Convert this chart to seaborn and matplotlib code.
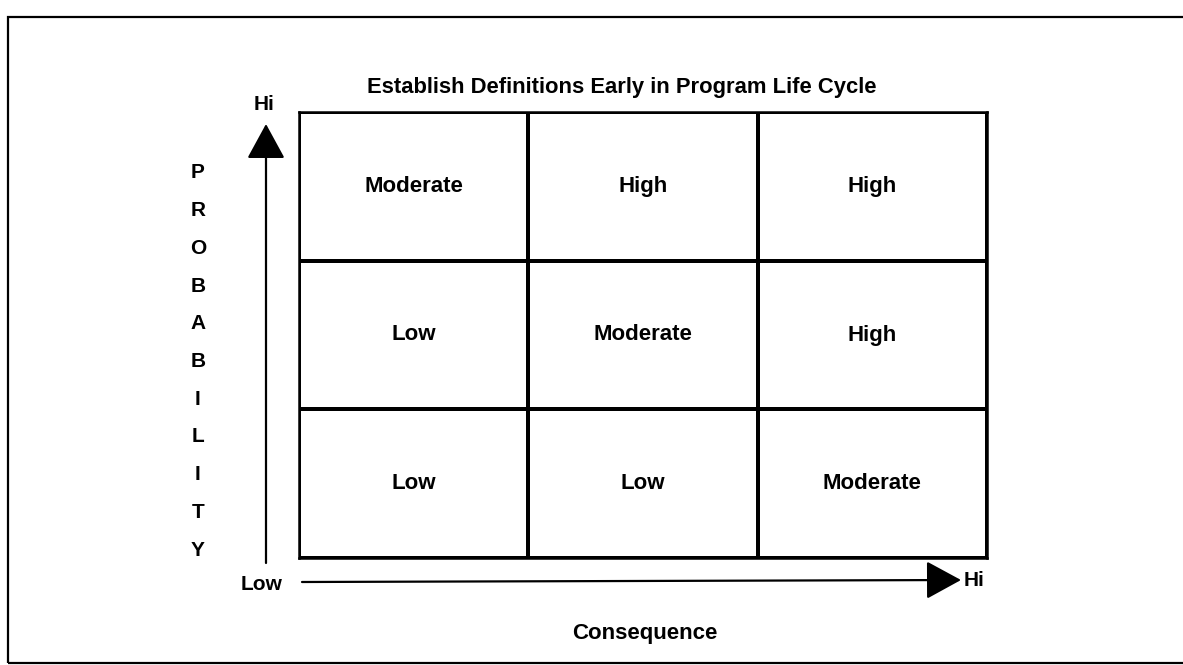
import matplotlib
matplotlib.use("Agg")
import matplotlib.pyplot as plt
import seaborn as sns
import numpy as np
from matplotlib.colors import ListedColormap
from matplotlib.patches import Rectangle, FancyArrowPatch

# Risk matrix data (rows: probability Hi -> Low, cols: consequence Low -> Hi)
prob_rows = ["Hi", "Mid", "Low"]
cons_cols = ["Low", "Mid", "Hi"]
risk_labels = [
    ["Moderate", "High", "High"],
    ["Low", "Moderate", "High"],
    ["Low", "Low", "Moderate"],
]
risk_scores = [
    [2, 3, 3],
    [1, 2, 3],
    [1, 1, 2],
]

title = "Establish Definitions Early in Program Life Cycle"
y_label = "PROBABILITY"
x_label = "Consequence"

sns.set_theme(style="white")
plt.rcParams['font.family'] = ['Liberation Sans', 'DejaVu Sans']
plt.rcParams['text.color'] = 'black'

W, H = 1183, 665
fig = plt.figure(figsize=(W / 100, H / 100), dpi=100)
fig.patch.set_facecolor('white')

def fx(px):
    return px / W

def fy(py):
    return 1 - py / H

# Grid area
left, right, top, bottom = 299, 987, 112, 558
ax = fig.add_axes([fx(left), fy(bottom), fx(right - left), fy(top) - fy(bottom)])
sns.heatmap(np.array(risk_scores), annot=np.array(risk_labels), fmt="",
            cmap=ListedColormap(['white']), cbar=False,
            linewidths=1.6, linecolor='black',
            annot_kws=dict(color='black', fontsize=16, fontweight='bold'),
            xticklabels=False, yticklabels=False, ax=ax)
for s in ax.spines.values():
    s.set_visible(True)
    s.set_linewidth(1.8)
    s.set_color('black')

# Outer frame (right side runs off the page)
fig.add_artist(Rectangle((fx(8), fy(663)), 1.2, fy(17) - fy(663),
                         transform=fig.transFigure, fill=False,
                         edgecolor='black', linewidth=1.6, clip_on=False))

# Title
fig.text(fx(622), fy(88), title, ha='center', va='center',
         fontsize=15.8, fontweight='bold')

arrow_style = '-|>,head_length=1.1,head_width=0.6'

# Vertical probability arrow
fig.add_artist(FancyArrowPatch(
    (fx(266), fy(563)), (fx(266), fy(124)), transform=fig.transFigure,
    arrowstyle=arrow_style, mutation_scale=20, shrinkA=0, shrinkB=0,
    color='black', linewidth=1.6))
fig.text(fx(264), fy(105), "Hi", ha='center', va='center', fontsize=15, fontweight='bold')
fig.text(fx(262), fy(585), "Low", ha='center', va='center', fontsize=15, fontweight='bold')

# Horizontal consequence arrow
fig.add_artist(FancyArrowPatch(
    (fx(302), fy(582)), (fx(961), fy(580)), transform=fig.transFigure,
    arrowstyle=arrow_style, mutation_scale=20, shrinkA=0, shrinkB=0,
    color='black', linewidth=1.6))
fig.text(fx(964), fy(580), "Hi", ha='left', va='center', fontsize=15, fontweight='bold')

fig.text(fx(645), fy(634), x_label, ha='center', va='center',
         fontsize=16, fontweight='bold')

# Stacked vertical letters
letter_y = np.linspace(173, 550, len(y_label))
for ch, yy in zip(y_label, letter_y):
    fig.text(fx(198), fy(yy), ch, ha='center', va='center',
             fontsize=15, fontweight='bold')

plt.savefig('out.png', dpi=100, facecolor='white')
plt.close()
